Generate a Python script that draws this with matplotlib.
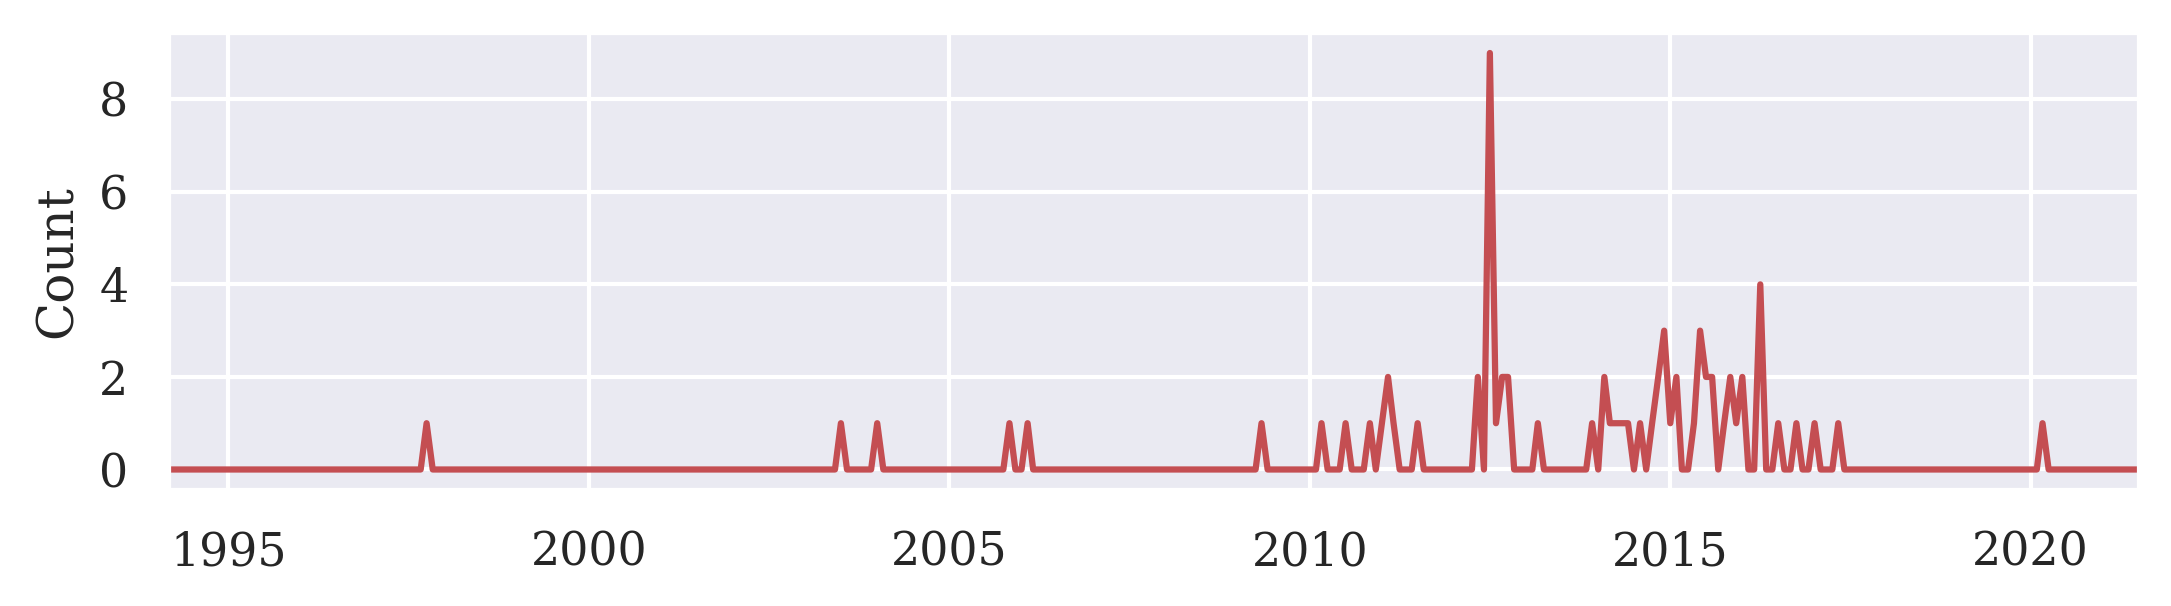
import matplotlib

matplotlib.use("Agg")
import matplotlib.dates as mdates
import matplotlib.pyplot as plt
import pandas as pd
import seaborn as sns

# monthly counts; every month not listed below is zero
FIRST_MONTH = "1994-03"
LAST_MONTH = "2021-07"
NONZERO_MONTHS = [
    "1997-10", "2003-07", "2004-01", "2005-11", "2006-02", "2009-05",
    "2010-03", "2010-07", "2010-11", "2011-01", "2011-02", "2011-03",
    "2011-07", "2012-05", "2012-07", "2012-08", "2012-09", "2012-10",
    "2013-03", "2013-12", "2014-02", "2014-03", "2014-04", "2014-05",
    "2014-06", "2014-08", "2014-10", "2014-11", "2014-12", "2015-01",
    "2015-02", "2015-05", "2015-06", "2015-07", "2015-08", "2015-10",
    "2015-11", "2015-12", "2016-01", "2016-04", "2016-07", "2016-10",
    "2017-01", "2017-05", "2020-03",
]
NONZERO_COUNTS = [
    1, 1, 1, 1, 1, 1,
    1, 1, 1, 1, 2, 1,
    1, 2, 9, 1, 2, 2,
    1, 1, 2, 1, 1, 1,
    1, 1, 1, 2, 3, 1,
    2, 1, 3, 2, 2, 1,
    2, 1, 2, 4, 1, 1,
    1, 1, 1,
]


def build_series():
    months = pd.date_range(FIRST_MONTH, LAST_MONTH, freq="MS")
    counts = pd.Series(NONZERO_COUNTS, index=pd.to_datetime(NONZERO_MONTHS))
    return counts.reindex(months, fill_value=0)


def main():
    sns.set_theme(style="darkgrid")
    plt.rcParams["font.family"] = ["DejaVu Serif"]

    series = build_series()

    fig = plt.figure(figsize=(2171 / 300, 606 / 300), dpi=300)
    ax = fig.add_axes([0.0774, 0.1909, 0.9077, 0.756])
    ax.plot(series.index, series.values, color="r", linewidth=1.5)

    ax.set_xlim(series.index[0], series.index[-1])
    ax.xaxis.set_major_locator(mdates.YearLocator(5))
    ax.xaxis.set_major_formatter(mdates.DateFormatter("%Y"))
    ax.set_yticks([0, 2, 4, 6, 8])
    ax.set_ylabel("Count")

    fig.savefig("out.png", dpi=300)
    plt.close(fig)


if __name__ == "__main__":
    main()
